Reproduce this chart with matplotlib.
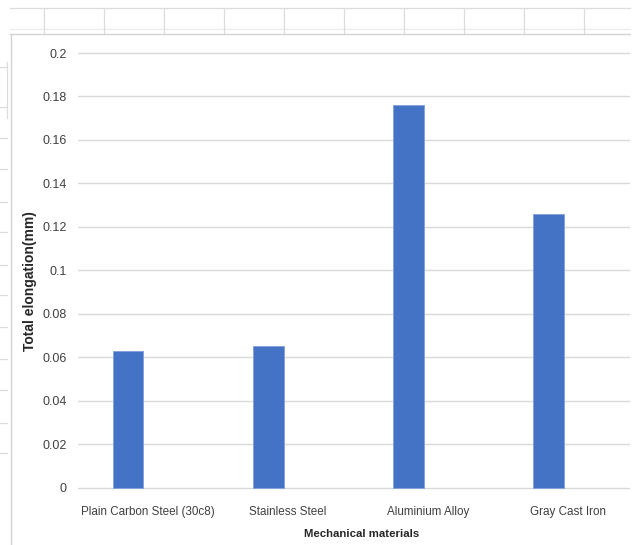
import matplotlib
matplotlib.use("Agg")
import matplotlib.pyplot as plt
from matplotlib.lines import Line2D
import numpy as np

# Data
materials = ["Plain Carbon Steel (30c8)", "Stainless Steel", "Aluminium Alloy", "Gray Cast Iron"]
elongation = [0.063, 0.065, 0.176, 0.126]
y_ticks = [0, 0.02, 0.04, 0.06, 0.08, 0.1, 0.12, 0.14, 0.16, 0.18, 0.2]
y_tick_labels = ["0", "0.02", "0.04", "0.06", "0.08", "0.1", "0.12", "0.14", "0.16", "0.18", "0.2"]

W, H = 639, 545
fig = plt.figure(figsize=(W / 100, H / 100), dpi=100)
fig.patch.set_facecolor("white")

NARROW = ["Liberation Sans Narrow", "Liberation Sans", "DejaVu Sans"]
BOLD = ["Liberation Sans", "DejaVu Sans"]


def px(x, y):
    return x / W, 1 - y / H


def fig_line(x0, y0, x1, y1, color="#dcdcdc", lw=0.9):
    (a, b), (c, d) = px(x0, y0), px(x1, y1)
    fig.add_artist(Line2D([a, c], [b, d], color=color, lw=lw,
                          transform=fig.transFigure, zorder=0))


# Worksheet cells around the chart object
fig_line(10, 8, 630, 8)
fig_line(10, 29, 630, 29, color="#ececec")
for cx in range(44, 630, 60):
    fig_line(cx, 8, cx, 34)
fig_line(7, 62, 7, 118)
for ry in [67, 107, 138, 169, 202, 232, 265, 295, 327, 359, 390, 423, 453]:
    fig_line(0, ry, 7, ry)

# Chart area border
fig_line(10, 34, 630, 34, color="#d4d4d4", lw=1.0)
fig_line(10.5, 34, 10.5, 545, color="#d4d4d4", lw=1.0)

# Plot area: 0 -> y=487.5 px, 0.2 -> y=53 px
scale = (487.5 - 53) / 0.2
eps = 0.001
left_px, right_px = 77.5, 630
bottom_px = 487.5 + eps * scale
top_px = 53 - eps * scale
ax = fig.add_axes([left_px / W, 1 - bottom_px / H,
                   (right_px - left_px) / W, (bottom_px - top_px) / H])
ax.set_facecolor("none")

x = np.arange(len(materials))
cat_w = 140.25
ax.bar(x - 0.14, elongation, width=0.22, color="#4472C4",
       edgecolor="#86a3dc", linewidth=0.7, zorder=3)

ax.set_xlim(-0.5, -0.5 + (right_px - left_px) / cat_w)
ax.set_ylim(-eps, 0.2 + eps)
ax.set_yticks(y_ticks)
ax.set_yticklabels(y_tick_labels)
ax.set_xticks(x)
ax.set_xticklabels(materials)

ax.grid(axis="y", color="#d9d9d9", linewidth=1.0)
ax.set_axisbelow(True)
for s in ax.spines.values():
    s.set_visible(False)

ax.tick_params(axis="both", length=0, colors="#404040")
ax.tick_params(axis="y", pad=8)
ax.tick_params(axis="x", pad=12)
for lab in ax.get_yticklabels():
    lab.set_family(NARROW)
    lab.set_fontsize(9)
    lab.set_color("#404040")
for lab in ax.get_xticklabels():
    lab.set_family(NARROW)
    lab.set_fontsize(8.4)
    lab.set_color("#404040")

ax.set_xlabel("Mechanical materials", family=NARROW, fontsize=8.2,
              fontweight="bold", color="#262626")
ax.xaxis.set_label_coords((362 - left_px) / (right_px - left_px),
                          (bottom_px - 529) / (bottom_px - top_px))

ax.set_ylabel("Total elongation(mm)", family=BOLD, fontsize=10,
              fontweight="bold", color="#262626")
ax.yaxis.set_label_coords((37 - left_px) / (right_px - left_px),
                          (bottom_px - 281) / (bottom_px - top_px))

fig.savefig("out.png", dpi=100, facecolor="white")
